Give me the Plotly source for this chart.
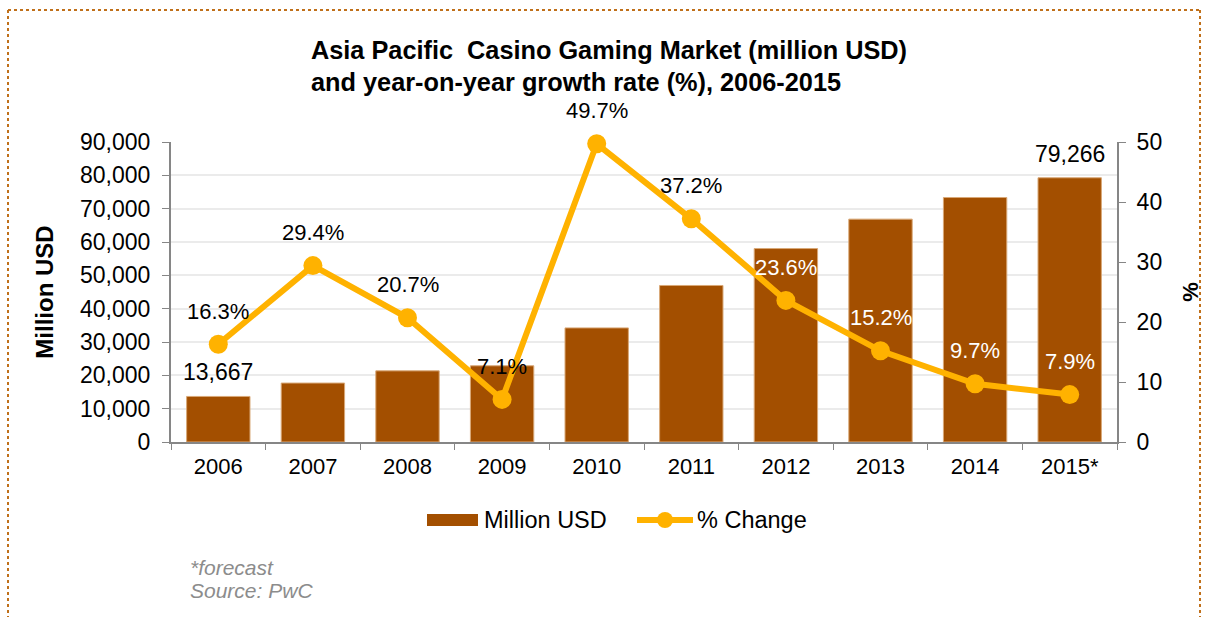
import plotly.graph_objects as go

# Asia Pacific casino gaming market, 2006-2015 (2015 is a forecast)
years = ["2006", "2007", "2008", "2009", "2010", "2011", "2012", "2013", "2014", "2015*"]
market_musd = [13667, 17685, 21346, 22862, 34224, 46955, 58036, 66858, 73343, 79266]
growth_pct = [16.3, 29.4, 20.7, 7.1, 49.7, 37.2, 23.6, 15.2, 9.7, 7.9]
growth_label_colors = ["black"] * 6 + ["white"] * 4
labelled_bars = ["2006", "2015*"]

y_ticks = [0, 10000, 20000, 30000, 40000, 50000, 60000, 70000, 80000, 90000]
y2_ticks = [0, 10, 20, 30, 40, 50]

FONT = "Arial, Liberation Sans, sans-serif"
BAR = "#A34F00"
LINE = "#FFB200"
AXIS = "#868686"
GRID = "#EBEBEB"
BORDER = "#C0701A"

fig = go.Figure()

fig.add_trace(go.Bar(
    x=years, y=market_musd, name="Million USD",
    marker=dict(color=BAR, line=dict(color="#D9A877", width=1)),
    yaxis="y",
))

fig.add_trace(go.Scatter(
    x=years, y=growth_pct, name="% Change", mode="lines+markers",
    line=dict(color=LINE, width=6),
    marker=dict(color=LINE, size=19),
    cliponaxis=False,
    yaxis="y2",
))

annotations = []

# growth-rate labels above each point (x given as category position)
for i, (g, c) in enumerate(zip(growth_pct, growth_label_colors)):
    annotations.append(dict(
        x=i, y=g, xref="x", yref="y2", text=f"{g:.1f}%", showarrow=False,
        yshift=33, font=dict(family=FONT, size=22, color=c),
    ))

# value labels on the first and last bar
for i, (yr, v) in enumerate(zip(years, market_musd)):
    if yr in labelled_bars:
        annotations.append(dict(
            x=i, y=v, xref="x", yref="y", text=f"{v:,}", showarrow=False,
            yshift=24, font=dict(family=FONT, size=23, color="black"),
        ))

# plot area in pixels: x 171..1117, y 142..442
def px(x):
    return (x - 171) / 946.0

def py(y):
    return (442 - y) / 300.0

# two-line title, left aligned
annotations.append(dict(
    x=px(309), y=py(50), xref="paper", yref="paper", xanchor="left", yanchor="middle",
    text="<b>Asia Pacific  Casino Gaming Market (million USD)</b>", showarrow=False,
    font=dict(family=FONT, size=25.3, color="black"),
))
annotations.append(dict(
    x=px(309), y=py(82), xref="paper", yref="paper", xanchor="left", yanchor="middle",
    text="<b>and year-on-year growth rate (%), 2006-2015</b>", showarrow=False,
    font=dict(family=FONT, size=25.3, color="black"),
))

# footnotes
annotations.append(dict(
    x=px(188), y=py(567), xref="paper", yref="paper", xanchor="left", yanchor="middle",
    text="<i>*forecast</i>", showarrow=False,
    font=dict(family=FONT, size=21, color="#8C8C8C"),
))
annotations.append(dict(
    x=px(188), y=py(590), xref="paper", yref="paper", xanchor="left", yanchor="middle",
    text="<i>Source: PwC</i>", showarrow=False,
    font=dict(family=FONT, size=21, color="#8C8C8C"),
))

# legend entries
annotations.append(dict(
    x=px(482), y=py(520), xref="paper", yref="paper", xanchor="left", yanchor="middle",
    text="Million USD", showarrow=False, font=dict(family=FONT, size=23.5, color="black"),
))
annotations.append(dict(
    x=px(695), y=py(520), xref="paper", yref="paper", xanchor="left", yanchor="middle",
    text="% Change", showarrow=False, font=dict(family=FONT, size=23.5, color="black"),
))

shapes = [
    # dotted frame (top, left, right)
    dict(type="line", xref="paper", yref="paper", x0=px(8), x1=px(1200), y0=py(10), y1=py(10),
         line=dict(color=BORDER, width=2, dash="dot")),
    dict(type="line", xref="paper", yref="paper", x0=px(8), x1=px(8), y0=py(10), y1=py(617),
         line=dict(color=BORDER, width=2, dash="dot")),
    dict(type="line", xref="paper", yref="paper", x0=px(1200), x1=px(1200), y0=py(10), y1=py(617),
         line=dict(color=BORDER, width=2, dash="dot")),
    # legend swatches
    dict(type="rect", xref="paper", yref="paper", x0=px(427), x1=px(478), y0=py(514), y1=py(526),
         fillcolor=BAR, line=dict(width=0)),
    dict(type="line", xref="paper", yref="paper", x0=px(637), x1=px(693), y0=py(520), y1=py(520),
         line=dict(color=LINE, width=6)),
    dict(type="circle", xref="paper", yref="paper", x0=px(657), x1=px(673), y0=py(512), y1=py(528),
         fillcolor=LINE, line=dict(width=0)),
]

fig.update_layout(
    width=1206, height=617,
    margin=dict(l=171, r=89, t=142, b=175, autoexpand=False),
    paper_bgcolor="white", plot_bgcolor="white",
    font=dict(family=FONT, size=22, color="black"),
    bargap=0.33,
    showlegend=False,
    xaxis=dict(
        type="category", range=[-0.5, 9.5], showline=True, linecolor=AXIS, linewidth=2,
        ticks="outside", ticklen=6, tickcolor=AXIS, tickson="boundaries", ticklabelstandoff=4,
        tickfont=dict(family=FONT, size=22), showgrid=False, tickangle=0,
    ),
    yaxis=dict(
        range=[0, 90000], tickvals=y_ticks, tickformat=",d",
        showline=True, linecolor=AXIS, linewidth=2,
        ticks="outside", ticklen=7, tickcolor=AXIS, ticklabelstandoff=7,
        showgrid=True, gridcolor=GRID, gridwidth=2, zeroline=False,
        tickfont=dict(family=FONT, size=23),
        title=dict(text="<b>Million USD</b>", font=dict(family=FONT, size=24), standoff=20),
    ),
    yaxis2=dict(
        range=[0, 50], tickvals=y2_ticks, overlaying="y", side="right",
        showline=True, linecolor=AXIS, linewidth=2,
        ticks="outside", ticklen=7, tickcolor=AXIS, ticklabelstandoff=6,
        showgrid=False, zeroline=False,
        tickfont=dict(family=FONT, size=23),
        title=dict(text="<b>%</b>", font=dict(family=FONT, size=22), standoff=21),
    ),
    annotations=annotations,
    shapes=shapes,
)

fig.write_html("out.html")
